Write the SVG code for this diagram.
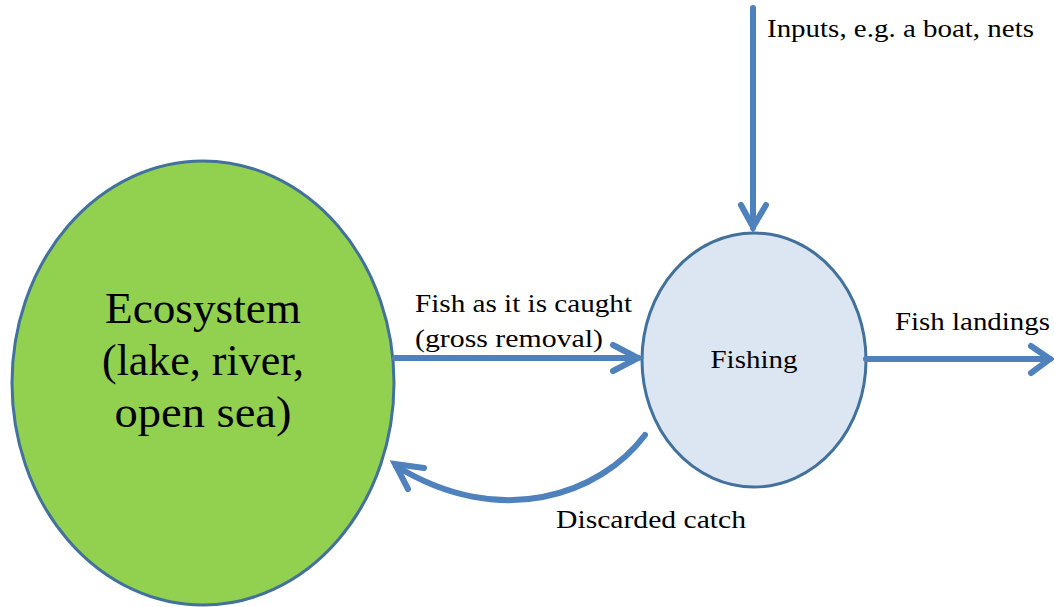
<svg xmlns="http://www.w3.org/2000/svg" width="1054" height="607" viewBox="0 0 1054 607">
  <style>
    .txt { font-family: "Liberation Serif", "DejaVu Serif", serif; fill: #000; }
    .flow { fill: none; stroke: #4F81BD; stroke-width: 6; stroke-linecap: round; stroke-linejoin: round; }
    .head { fill: none; stroke: #4F81BD; stroke-width: 6; stroke-linecap: round; stroke-linejoin: miter; }
  </style>
  <rect width="1054" height="607" fill="#ffffff"/>

  <g id="ecosystem">
    <ellipse cx="203" cy="383" rx="191" ry="222" fill="#92D050" stroke="#41719C" stroke-width="3"/>
    <text class="txt" x="203" y="323" font-size="44" text-anchor="middle" textLength="196" lengthAdjust="spacingAndGlyphs">Ecosystem</text>
    <text class="txt" x="203" y="375" font-size="44" text-anchor="middle" textLength="202" lengthAdjust="spacingAndGlyphs">(lake, river,</text>
    <text class="txt" x="203" y="427" font-size="44" text-anchor="middle" textLength="177" lengthAdjust="spacingAndGlyphs">open sea)</text>
  </g>

  <g id="fishing">
    <ellipse cx="754" cy="360" rx="112" ry="127" fill="#DCE6F2" stroke="#41719C" stroke-width="3"/>
    <text class="txt" x="754" y="368" font-size="25" text-anchor="middle" textLength="87" lengthAdjust="spacingAndGlyphs">Fishing</text>
  </g>

  <g id="connectors">
    <!-- inputs into fishing -->
    <line class="flow" x1="753" y1="8" x2="753" y2="228"/>
    <polyline class="head" points="741,205 753,227 766,205"/>
    <!-- gross removal from ecosystem -->
    <line class="flow" x1="395" y1="358" x2="638" y2="358"/>
    <polyline class="head" points="613,345 638,358 613,371"/>
    <!-- landings out -->
    <line class="flow" x1="866" y1="359" x2="1050" y2="359"/>
    <polyline class="head" points="1031,346 1050,359 1031,373"/>
    <!-- discarded catch back to ecosystem -->
    <path class="flow" d="M 645 435 C 600 495, 500 530, 396 466"/>
    <polyline class="head" points="424,468 395,464 408,489"/>
  </g>

  <g id="labels">
    <text class="txt" x="415" y="312" font-size="25" textLength="217" lengthAdjust="spacingAndGlyphs">Fish as it is caught</text>
    <text class="txt" x="415" y="347" font-size="25" textLength="188" lengthAdjust="spacingAndGlyphs">(gross removal)</text>
    <text class="txt" x="895" y="330" font-size="25" textLength="155" lengthAdjust="spacingAndGlyphs">Fish landings</text>
    <text class="txt" x="556" y="528" font-size="25" textLength="190" lengthAdjust="spacingAndGlyphs">Discarded catch</text>
    <text class="txt" x="767" y="37" font-size="25" textLength="267" lengthAdjust="spacingAndGlyphs">Inputs, e.g. a boat, nets</text>
  </g>
</svg>
